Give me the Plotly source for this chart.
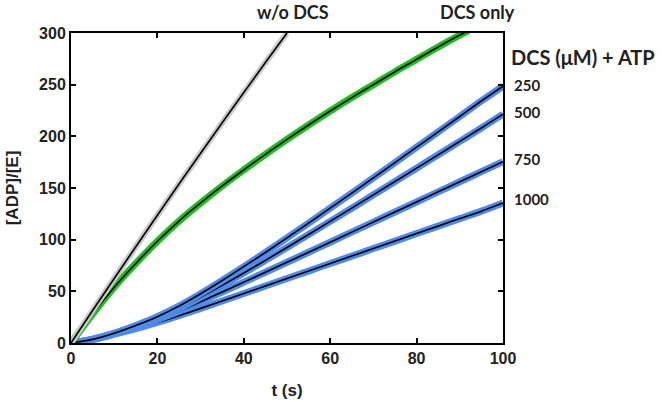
import plotly.graph_objects as go

# time points (s)
t_wo = [0, 5, 10, 15, 20, 25, 30, 35, 40, 45, 50]
adp_wo_dcs = [0, 31.4, 62.4, 93.2, 123.6, 153.8, 183.6, 213.2, 242.4, 271.4, 300]

t_only = [0, 5, 10, 15, 20, 25, 30, 35, 40, 45, 50, 55, 60, 65, 70, 75, 80, 85, 90, 92]
adp_dcs_only = [0, 28, 54, 77, 98.5, 118, 135.5, 152, 167.5, 182.5, 197, 211, 224.5,
                237.5, 250, 262.5, 274.5, 286.5, 298, 302]

t_atp = [0, 5, 10, 15, 20, 25, 30, 35, 40, 45, 50, 55, 60, 65, 70, 75, 80, 85, 90, 95, 100]
adp_250 = [0, 3.5, 9.5, 17, 25.5, 35.7, 47.7, 60.5, 73.9, 87.6, 101.7, 116, 130.5,
           145.1, 159.8, 174.6, 189.5, 204.3, 219.2, 234.2, 248.5]
adp_500 = [0, 3.5, 9.2, 16, 24, 33.4, 44.3, 55.8, 67.7, 80.0, 92.4, 105.0, 117.7,
           130.5, 143.4, 156.3, 169.2, 182.1, 195.1, 208.1, 221.5]
adp_750 = [0, 3.5, 9.0, 15.5, 22.8, 30.8, 40.0, 49.3, 58.9, 68.5, 78.1, 87.8, 97.5,
           107.3, 117.0, 126.8, 136.5, 146.3, 156.0, 165.8, 175.5]
adp_1000 = [0, 3.5, 8.5, 14, 20, 26.4, 33.5, 40.7, 47.9, 55.1, 62.4, 69.6, 76.9,
            84.1, 91.4, 98.6, 105.9, 113.1, 120.4, 127.6, 135.5]

conc_labels = ["250", "500", "750", "1000"]

GRAY = "#c8c8c8"
GREEN = "#1fbf1f"
BLUE = "#4f8ae8"

fig = go.Figure()

def add_series(x, y, color, bw):
    fig.add_trace(go.Scatter(x=x, y=y, mode="lines", line=dict(color=color, width=bw, shape="spline"),
                             showlegend=False, hoverinfo="skip"))
    fig.add_trace(go.Scatter(x=x, y=y, mode="lines", line=dict(color="black", width=1.6, shape="spline"),
                             showlegend=False, hoverinfo="skip"))

for ys in [adp_1000, adp_750, adp_500, adp_250]:
    add_series(t_atp, ys, BLUE, 7)
add_series(t_only, adp_dcs_only, GREEN, 7)
add_series(t_wo, adp_wo_dcs, GRAY, 6)

axis_common = dict(showline=True, linecolor="black", linewidth=2, mirror="ticks",
                   ticks="inside", ticklen=5, tickwidth=2, tickcolor="black",
                   showgrid=False, zeroline=False, automargin=False,
                   tickfont=dict(family="Liberation Sans", size=16, color="#222222"))

fig.update_xaxes(range=[0, 100], dtick=20, title=dict(text="<b>t (s)</b>", standoff=18,
                 font=dict(family="Liberation Sans", size=17, color="#222222")),
                 tickprefix="<b>", ticksuffix="</b>", **axis_common)
fig.update_yaxes(range=[0, 300], dtick=50, title=dict(text="<b>[ADP]/[E]</b>", standoff=16,
                 font=dict(family="Liberation Sans", size=17, color="#222222")),
                 tickprefix="<b>", ticksuffix="</b>", **axis_common)

ann_font = dict(family="Lato", size=18, color="#222222")
annotations = [
    dict(x=0.514, y=1.068, text="<b>w/o DCS</b>", xanchor="center", yanchor="middle", font=ann_font),
    dict(x=0.942, y=1.068, text="<b>DCS only</b>", xanchor="center", yanchor="middle", font=ann_font),
    dict(x=1.014, y=0.923, text="<b>DCS (μM) + ATP</b>", xanchor="left", yanchor="middle",
         font=dict(family="Lato", size=20, color="#222222")),
]
label_y = [0.832, 0.745, 0.594, 0.465]
for lab, yy in zip(conc_labels, label_y):
    annotations.append(dict(x=1.021, y=yy, text="<b>" + lab + "</b>", xanchor="left", yanchor="middle",
                            font=dict(family="Lato", size=15, color="#222222")))
for a in annotations:
    a.update(xref="paper", yref="paper", showarrow=False)

fig.update_layout(width=666, height=402, margin=dict(l=71, r=163, t=33, b=59),
                  paper_bgcolor="white", plot_bgcolor="white", annotations=annotations)

fig.write_html("out.html", config={"displayModeBar": False},
               post_script="document.body.style.margin='0';document.body.style.overflow='hidden';")
